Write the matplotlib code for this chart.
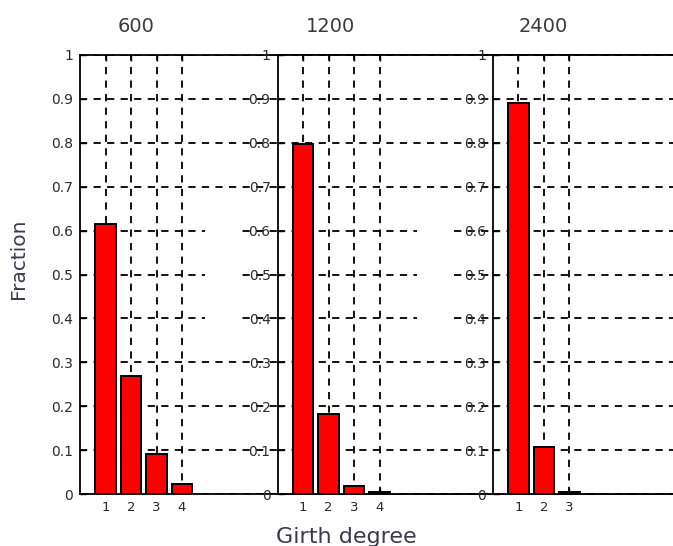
import matplotlib.pyplot as plt
from matplotlib.patches import Rectangle

# girth degree fractions for three graph sizes
titles = ['600', '1200', '2400']
degrees = [[1, 2, 3, 4], [1, 2, 3, 4], [1, 2, 3]]
fractions = [
    [0.615, 0.268, 0.092, 0.022],
    [0.797, 0.183, 0.018, 0.004],
    [0.890, 0.106, 0.004],
]
yticks = [0, 0.1, 0.2, 0.3, 0.4, 0.5, 0.6, 0.7, 0.8, 0.9, 1]

W, H = 673, 546
fig = plt.figure(figsize=(W / 100, H / 100), dpi=100)
plt.rcParams['font.family'] = ['DejaVu Sans']

lefts_px = [80, 277.5, 493]
title_x = [136, 330, 543]
top_px, bot_px = 55, 494
unit = 25.5  # pixels per bar step
right_px = W + 20

for i in range(3):
    l = lefts_px[i]
    ax = fig.add_axes([l / W, 1 - bot_px / H, (right_px - l) / W, (bot_px - top_px) / H])
    ax.set_zorder(i)
    ax.bar(degrees[i], fractions[i], width=0.8, color='#ff0000', edgecolor='black', linewidth=1.4, zorder=3)
    ax.set_xlim(0, (right_px - l) / unit)
    ax.set_ylim(0, 1)
    ax.set_xticks(degrees[i])
    ax.set_xticklabels([str(d) for d in degrees[i]], fontsize=9.5, color='#2a2a2a')
    ax.set_yticks(yticks)
    ax.set_yticklabels(['%g' % t for t in yticks], fontsize=10, color='#2a2a2a')
    ax.tick_params(direction='in', length=4, top=True, width=1, pad=5)
    ax.set_axisbelow(True)
    ax.grid(True, color='black', linestyle=(0, (4, 3.5)), linewidth=1.3)
    ax.spines['right'].set_visible(False)
    for s in ['left', 'top', 'bottom']:
        ax.spines[s].set_linewidth(1.3)
    fig.text(title_x[i] / W, 1 - 27 / H, titles[i], ha='center', va='center',
             fontsize=14, color='#3a3a3a')

# blank patches where the overlaid panels hide the grid
for x0, x1 in [(205, 241), (417, 452)]:
    fig.add_artist(Rectangle((x0 / W, 1 - 355 / H), (x1 - x0) / W, (355 - 212) / H,
                             transform=fig.transFigure, facecolor='white', edgecolor='none', zorder=10))

fig.text(19 / W, 1 - 259 / H, 'Fraction', rotation=90, ha='center', va='center',
         fontsize=14.5, color='#3a3a4a')
fig.text(346 / W, 1 - 527 / H, 'Girth degree', ha='center', va='top',
         fontsize=16, color='#3a3a4a')

fig.savefig('out.png', dpi=100)
